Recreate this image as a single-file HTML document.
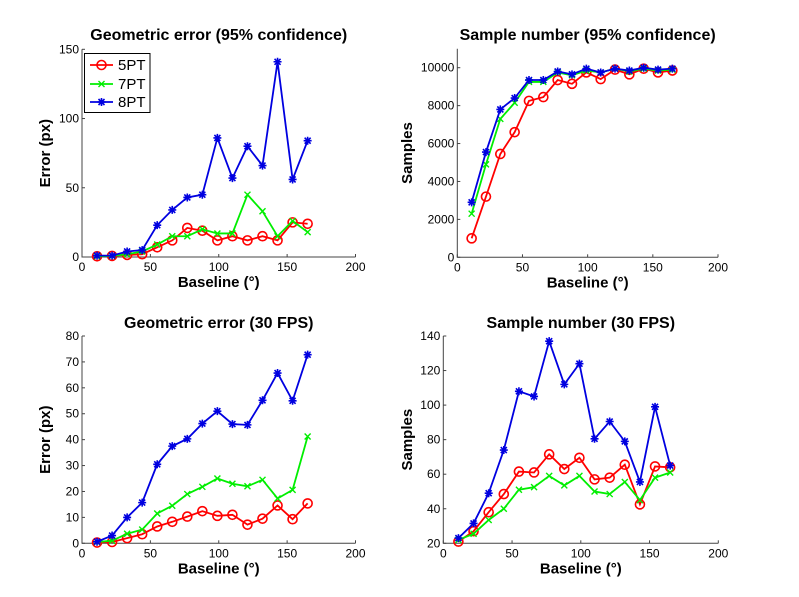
<!DOCTYPE html>
<html><head><meta charset="utf-8">
<style>
html,body{margin:0;padding:0;background:#fff;}
svg{display:block;font-family:"Liberation Sans",Arial,sans-serif;}
</style></head>
<body>
<svg id="fig" width="799" height="597" viewBox="0 0 799 597"></svg>
<script>
const xs = [11,22,33,44,55,66,77,88,99,110,121,132,143,154,165];
const xTicks = [0,50,100,150,200];
const tl5 = [0.5,0.8,1.5,2,7,12,21,19,12,15,12,15,12,25,24];
const tl7 = [0.5,0.8,2,4,9,15,15,20,17,17,45,33,15,26,18];
const tl8 = [1,1,4,5,23,34,43,45,86,57,80,66,141,56,84];
const tlTicks = [0,50,100,150];
const tr5 = [1000,3200,5450,6600,8250,8450,9350,9150,9750,9400,9900,9650,9950,9750,9850];
const tr7 = [2300,4900,7300,8150,9250,9250,9750,9600,9850,9750,9950,9800,9950,9850,9900];
const tr8 = [2900,5550,7800,8400,9350,9350,9800,9650,9950,9750,9950,9850,10000,9900,9950];
const trTicks = [0,2000,4000,6000,8000,10000];
const bl5 = [0.3,0.5,2,3.5,6.5,8.3,10.3,12.4,10.6,11,7.2,9.5,14.6,9.3,15.4];
const bl7 = [0.5,1,3.7,5.3,11.5,14.5,19,21.8,25,23,22,24.5,17.3,20.6,41.2];
const bl8 = [0.6,3,10,15.7,30.5,37.5,40.3,46.2,51,46,45.7,55.2,65.7,55,72.8];
const blTicks = [0,10,20,30,40,50,60,70,80];
const br5 = [21,27,38,48.5,61.5,61,71.5,63,69.5,57,58,65.5,42.5,64.5,64];
const br7 = [22,25.5,33.5,40,51,52.5,59,53.5,59,50,48.5,55.5,45,58,61];
const br8 = [23,31.5,49,74,108,105,137,112,124,80.5,90.5,79,55.5,99,65];
const brTicks = [20,40,60,80,100,120,140];

const NS="http://www.w3.org/2000/svg";
const svg=document.getElementById('fig');
function mk(tag,attrs,parent){const e=document.createElementNS(NS,tag);for(const k in attrs)e.setAttribute(k,attrs[k]);(parent||svg).appendChild(e);return e;}
const RED='#ff0000',GRN='#00ee00',BLU='#0000e0';

function marker(g,type,x,y,col){
  if(type==='o'){mk('circle',{cx:x,cy:y,r:4.5,fill:'none',stroke:col,'stroke-width':1.6},g);}
  else if(type==='x'){const d=3;mk('path',{d:`M${x-d},${y-d}L${x+d},${y+d}M${x-d},${y+d}L${x+d},${y-d}`,stroke:col,'stroke-width':1.4},g);}
  else {const d=4;mk('path',{d:`M${x-d},${y}L${x+d},${y}M${x},${y-d}L${x},${y+d}M${x-3},${y-3}L${x+3},${y+3}M${x-3},${y+3}L${x+3},${y-3}`,stroke:col,'stroke-width':1.6},g);}
}

function panel(o){
  const g=mk('g',{});
  
  
  const sx=v=>o.x0+(v-0)/(200)*(o.x1-o.x0);
  const sy=v=>o.yb+(v-o.ymin)/(o.ymax-o.ymin)*(o.yt-o.yb);
  const topY=o.ytop;
  const ax=mk('path',{d:`M${o.x0},${topY}L${o.x0},${o.yb}L${o.x1},${o.yb}`,fill:'none',stroke:'#444','stroke-width':1},g);
  
  
  xTicks.forEach(t=>{const X=sx(t);mk('line',{x1:X,y1:o.yb,x2:X,y2:o.yb-3,stroke:'#444'},g);
    const tx=mk('text',{x:X,y:o.yb+14,'font-size':12,'text-anchor':'middle'},g);tx.textContent=t;
    
    });
  o.yticks.forEach(t=>{const Y=sy(t);mk('line',{x1:o.x0,y1:Y,x2:o.x0+3,y2:Y,stroke:'#444'},g);
    const tx=mk('text',{x:o.x0-3,y:Y+4,'font-size':12,'text-anchor':'end'},g);tx.textContent=t;
    
    });
  const tt=mk('text',{x:(o.x0+o.x1)/2,y:o.titleY,'font-size':16,'font-weight':'bold','text-anchor':'middle'},g);tt.textContent=o.title;
  
  
  const xl=mk('text',{x:(o.x0+o.x1)/2,y:o.yb+30,'font-size':15,'font-weight':'bold','text-anchor':'middle'},g);xl.textContent='Baseline (°)';
  
  
  const yc=(topY+o.yb)/2;
  const yl=mk('text',{x:o.ylabX,y:yc,'font-size':15,'font-weight':'bold','text-anchor':'middle',transform:`rotate(-90 ${o.ylabX} ${yc})`},g);yl.textContent=o.ylabel;
  
  
  [[o.s5,RED,'o','series-5pt'],[o.s7,GRN,'x','series-7pt'],[o.s8,BLU,'*','series-8pt']].forEach(([s,c,m,n])=>{
    const sg=mk('g',{},g);
    
    
    mk('polyline',{points:s.map((v,i)=>sx(xs[i])+','+sy(v)).join(' '),fill:'none',stroke:c,'stroke-width':1.8},sg);
    s.forEach((v,i)=>marker(sg,m,sx(xs[i]),sy(v),c));
  });
  return g;
}

panel({name:'geometric-error-95',x0:82,x1:355.5,yb:257,yt:49.3,ymin:0,ymax:150,ytop:49.3,yticks:tlTicks,s5:tl5,s7:tl7,s8:tl8,title:'Geometric error (95% confidence)',titleY:40,ylabel:'Error (px)',ylabX:50});
panel({name:'sample-number-95',x0:457.3,x1:718,yb:257.3,yt:67.7,ymin:0,ymax:10000,ytop:48.7,yticks:trTicks,s5:tr5,s7:tr7,s8:tr8,title:'Sample number (95% confidence)',titleY:40,ylabel:'Samples',ylabX:412});
panel({name:'geometric-error-30fps',x0:82,x1:355.5,yb:543.3,yt:336,ymin:0,ymax:80,ytop:336,yticks:blTicks,s5:bl5,s7:bl7,s8:bl8,title:'Geometric error (30 FPS)',titleY:328,ylabel:'Error (px)',ylabX:50});
panel({name:'sample-number-30fps',x0:443.3,x1:718.3,yb:543.3,yt:336,ymin:20,ymax:140,ytop:336,yticks:brTicks,s5:br5,s7:br7,s8:br8,title:'Sample number (30 FPS)',titleY:328,ylabel:'Samples',ylabX:412});

// legend
const lg=mk('g',{});


mk('rect',{x:84.5,y:53.5,width:65.5,height:59,fill:'#fff',stroke:'#000','stroke-width':1},lg);
[['5PT',RED,'o',65],['7PT',GRN,'x',84],['8PT',BLU,'*',102]].forEach(([t,c,m,y])=>{
  const e=mk('g',{},lg);
  
  
  mk('line',{x1:90,y1:y,x2:113,y2:y,stroke:c,'stroke-width':1.8},e);
  marker(e,m,101.5,y,c);
  const tx=mk('text',{x:118,y:y+5,'font-size':15},e);tx.textContent=t;
});
</script>
</body></html>
